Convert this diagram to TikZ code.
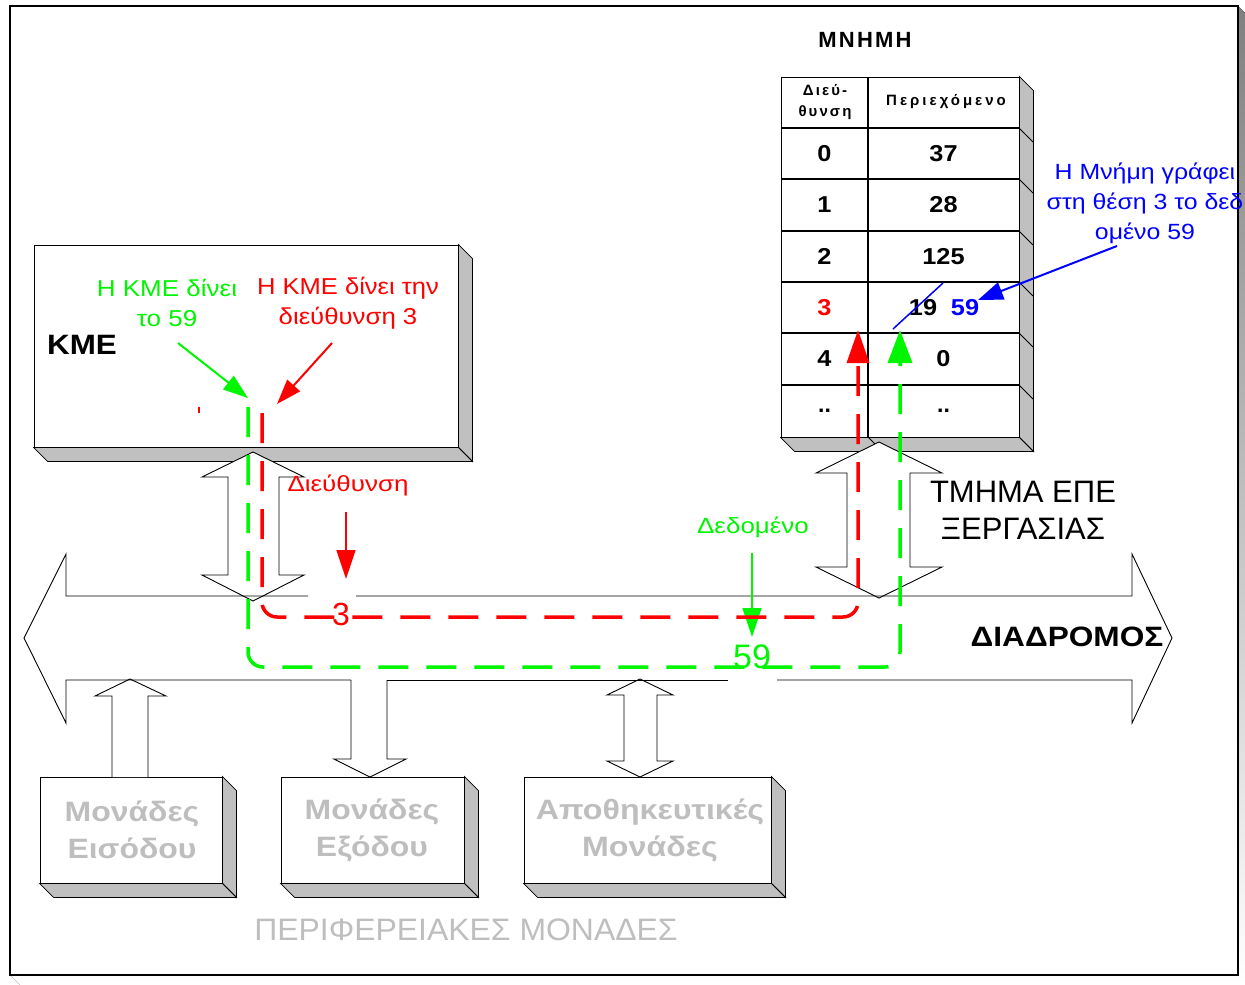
\documentclass[tikz,border=0pt]{standalone}
\usepackage{graphicx}
\usepackage{fontspec}
\setmainfont{Liberation Sans}
\usetikzlibrary{arrows.meta,calc}
\definecolor{shade}{RGB}{192,192,192}
\definecolor{pgreen}{RGB}{0,245,0}
\definecolor{pred}{RGB}{255,0,0}
\definecolor{pblue}{RGB}{0,0,255}
\definecolor{ptext}{RGB}{190,190,190}
\newcommand\fs[2]{\fontsize{#1}{#2}\selectfont}
\newcommand\hs[2]{\scalebox{#1}[1]{#2}}
\newcommand\boxshade[1]{%
  \filldraw[sh] (#1.north east) -- ++(14,14) -- ($(#1.south east)+(14,14)$) -- (#1.south east) -- cycle;
  \filldraw[sh] (#1.south west) -- ++(14,14) -- ($(#1.south east)+(14,14)$) -- (#1.south east) -- cycle;}
\tikzset{
  face/.style={draw=black, fill=white, line width=0.9, inner sep=0},
  sh/.style={draw=black, fill=shade, line width=0.8},
  blk/.style={draw=black, fill=white, line width=0.9, line join=miter},
  busline/.style={draw=black, line width=0.9},
  lbl/.style={inner sep=0, align=center},
  route/.style={line width=3.5, dash pattern=on 30 off 18, rounded corners=15},
  thin arrow/.style={line width=2, -{Triangle[length=25pt,width=17pt]}},
  cell/.style={inner sep=0, font=\fs{23}{23}\bfseries},
  peri/.style={lbl, text=ptext, font=\fs{28}{37}\bfseries},
}
\begin{document}
\begin{tikzpicture}[x=1pt,y=-1pt]
\useasboundingbox (0,0) rectangle (1245,985);
% outer frame
\fill[shade] (10,975) -- (1238,975) -- (1238,6) -- (1245,13) -- (1245,985) -- (20,985) -- cycle;
\draw[line width=1.5] (10,6) rectangle (1238,975);

% KME box
\node[face, minimum width=424, minimum height=202] (kme) at (246,346) {};
\boxshade{kme}
\node[lbl, anchor=west, font=\fs{28}{28}\bfseries] (kmet) at (47,345) {\hs{1.12}{ΚΜΕ}};

% memory table
\node[lbl, font=\fs{22}{22}\bfseries\addfontfeature{LetterSpace=10}] (mnhmh) at (865,40) {ΜΝΗΜΗ};
\node[face, minimum width=238, minimum height=360] (mem) at (900,257) {};
\boxshade{mem}
\foreach \y in {128,179,231,282,333,385} {
  \draw[line width=1.2] (781,\y) -- (1019,\y);
  \draw[line width=0.8] (1019,\y) -- ++(14,14);
}
\draw[line width=1.2] (868,77) -- (868,437);
\draw[line width=0.8] (868,437) -- ++(14,14);
\node[lbl, font=\fs{15}{21}\bfseries\addfontfeature{LetterSpace=14}] (h1) at (825,102) {Διεύ-\\θυνση};
\node[lbl, font=\fs{15}{21}\bfseries\addfontfeature{LetterSpace=20}] (h2) at (946,102) {Περιεχόμενο};
\node[cell] (a0) at (824.5,153.5) {\hs{1.1}{0}};
\node[cell] (c0) at (943.5,153.5) {\hs{1.1}{37}};
\node[cell] (a1) at (824.5,205) {\hs{1.1}{1}};
\node[cell] (c1) at (943.5,205) {\hs{1.1}{28}};
\node[cell] (a2) at (824.5,256.5) {\hs{1.1}{2}};
\node[cell] (c2) at (943.5,256.5) {\hs{1.1}{125}};
\node[cell, text=pred] (a3) at (824.5,307.5) {\hs{1.1}{3}};
\node[cell] (c3) at (923,307.5) {\hs{1.1}{19}};
\node[cell, text=pblue] (c3n) at (965,307.5) {\hs{1.1}{59}};
\node[cell] (a4) at (824.5,359) {\hs{1.1}{4}};
\node[cell] (c4) at (943.5,359) {\hs{1.1}{0}};
\node[cell] (a5) at (824.5,411) {..};
\node[cell] (c5) at (943.5,411) {..};
\coordinate (x1) at (893,329);
\coordinate (x2) at (943,283);
\draw[pblue, line width=1.5] (x1) -- (x2);

% peripheral boxes
\node[face, minimum width=182, minimum height=106] (inp) at (131,830) {};
\boxshade{inp}
\node[face, minimum width=183, minimum height=106] (outp) at (372.5,830) {};
\boxshade{outp}
\node[face, minimum width=247, minimum height=106] (stor) at (647.5,830) {};
\boxshade{stor}
\node[peri] (inpt) at (132,830) {\hs{1.14}{Μονάδες}\\\hs{1.14}{Εισόδου}};
\node[peri] (outpt) at (372,830) {\hs{1.14}{Μονάδες}\\\hs{1.14}{Εξόδου}};
\node[peri] (stort) at (650,830) {\hs{1.15}{Αποθηκευτικές}\\\hs{1.15}{Μονάδες}};
\node[lbl, text=ptext, font=\fs{31}{31}] (perit) at (466,930) {\hs{1.03}{ΠΕΡΙΦΕΡΕΙΑΚΕΣ ΜΟΝΑΔΕΣ}};

% block arrows
\draw[blk] (253,452) -- (304,477) -- (279,477) -- (279,575) -- (304,575) -- (253,601) -- (202,575) -- (228,575) -- (228,477) -- (202,477) -- cycle;
\draw[blk] (879,442) -- (942,473) -- (910,473) -- (910,567) -- (942,567) -- (879,598) -- (816,567) -- (847,567) -- (847,473) -- (816,473) -- cycle;
\draw[blk] (112,777) -- (112,696) -- (95,696) -- (130,679) -- (166,696) -- (148,696) -- (148,777);
\draw[blk] (351,680) -- (351,759) -- (334,759) -- (370,777) -- (406,759) -- (387,759) -- (387,680);
\draw[blk] (640,679) -- (673,695) -- (657,695) -- (657,761) -- (673,761) -- (640,777) -- (607,761) -- (624,761) -- (624,695) -- (607,695) -- cycle;

% bus
\draw[busline] (308,596) -- (66,596) -- (66,554) -- (24,638) -- (66,723) -- (66,680) -- (351,680);
\draw[busline] (387,680) -- (728,680);
\draw[busline] (777,680) -- (1132,680) -- (1132,723) -- (1172,638) -- (1132,554) -- (1132,596) -- (356,596);
\node[lbl, font=\fs{28}{28}\bfseries] (bus) at (1067,637) {\hs{1.13}{ΔΙΑΔΡΟΜΟΣ}};
\node[lbl, font=\fs{31}{37}] (tmima) at (1023,510) {ΤΜΗΜΑ ΕΠΕ\\ΞΕΡΓΑΣΙΑΣ};

% labels in CPU
\node[lbl, text=pgreen, font=\fs{23}{30}] (lg) at (167,303) {\hs{1.13}{Η ΚΜΕ δίνει}\\\hs{1.13}{το 59}};
\node[lbl, text=pred, font=\fs{23}{30}] (lr) at (348,303) {\hs{1.11}{Η ΚΜΕ δίνει την}\\\hs{1.12}{διεύθυνση 3}};
\coordinate (lgs) at (178,343);
\coordinate (lrs) at (332,343);
\coordinate (gs) at (248,407);
\coordinate (rs) at (262,413);
\coordinate (gtipk) at (248,398);
\coordinate (rtipk) at (277,404);
\draw[pgreen, thin arrow] (lgs) -- (gtipk);
\draw[pred, thin arrow] (lrs) -- (rtipk);
\draw[pred, line width=1.2] (199,407) -- (199,413);

% values on bus
\node[lbl, text=pred, font=\fs{32}{32}] (v3) at (341,614) {3};
\node[lbl, text=pgreen, font=\fs{34}{34}] (v59) at (752,657) {59};
\node[lbl, text=pred, font=\fs{22}{22}] (ld) at (348,485) {\hs{1.18}{Διεύθυνση}};
\node[lbl, text=pgreen, font=\fs{22}{22}] (ldd) at (753,527) {\hs{1.18}{Δεδομένο}};
\coordinate (lds) at (346,512);
\coordinate (ldt) at (346,579);
\coordinate (ldds) at (752,553);
\coordinate (lddt) at (752,637);
\draw[pred, line width=1.5, -{Triangle[length=29pt,width=19pt]}] (lds) -- (ldt);
\draw[pgreen, line width=1.5, -{Triangle[length=29pt,width=19pt]}] (ldds) -- (lddt);

% routes
\coordinate (rt) at (858,330);
\coordinate (gt) at (900,330);
\draw[pred, route, -{Triangle[length=33pt,width=22pt]}] (rs) -- (262,617) -- (858,617) -- (rt);
\draw[pgreen, route, -{Triangle[length=33pt,width=24pt]}] (gs) -- (248,667) -- (900,667) -- (gt);

% memory annotation
\node[lbl, text=pblue, font=\fs{22}{30}] (note) at (1145,203) {\hs{1.13}{Η Μνήμη γράφει}\\\hs{1.13}{στη θέση 3 το δεδ}\\\hs{1.13}{ομένο 59}};
\coordinate (bs) at (1117,246);
\coordinate (bt) at (978,300);
\draw[pblue, line width=2, -{Triangle[length=25pt,width=18pt]}] (bs) -- (bt);
\end{tikzpicture}
\end{document}
